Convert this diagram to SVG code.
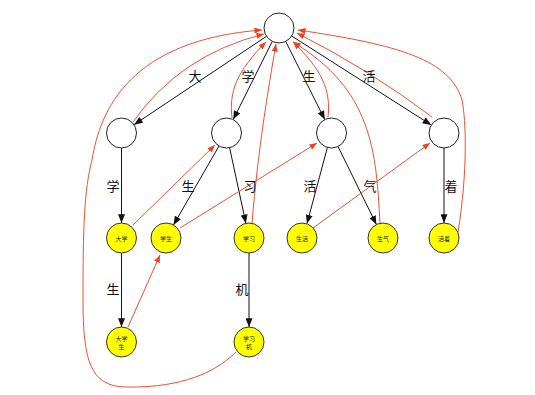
<svg xmlns="http://www.w3.org/2000/svg" width="535" height="395" viewBox="0 0 535 395">
<style>
.n{fill:#fff;stroke:#222;stroke-width:1}
.y{fill:#ffff00;stroke:#333;stroke-width:1}
.e{fill:none;stroke:#111;stroke-width:1;marker-end:url(#ab)}
.f{fill:none;stroke:#f0502f;stroke-width:1;marker-end:url(#ar)}
.l{font-family:"Noto Sans CJK SC","Noto Sans CJK JP",sans-serif;font-size:13px;fill:#111;text-anchor:middle;dominant-baseline:central}
.s{font-family:"Noto Sans CJK SC","Noto Sans CJK JP",sans-serif;font-size:6px;fill:#222;text-anchor:middle;dominant-baseline:central}
</style>
<defs>
<marker id="ab" viewBox="0 0 10 8" refX="10" refY="4" markerUnits="userSpaceOnUse" markerWidth="9" markerHeight="7" orient="auto"><path d="M0,0 L10,4 L0,8 z" fill="#111"/></marker>
<marker id="ar" viewBox="0 0 10 8" refX="10" refY="4" markerUnits="userSpaceOnUse" markerWidth="8" markerHeight="6" orient="auto"><path d="M0,0 L10,4 L0,8 z" fill="#f0401e"/></marker>
</defs>
<g id="connectors">
<line class="e" x1="266.5" y1="36.3" x2="134" y2="124.7"/>
<line class="e" x1="272.3" y1="41.4" x2="233.2" y2="119.6"/>
<line class="e" x1="285.7" y1="41.4" x2="324.8" y2="119.6"/>
<line class="e" x1="291.7" y1="36" x2="431.3" y2="125"/>
<line class="e" x1="121.5" y1="148" x2="121.5" y2="223"/>
<line class="e" x1="219" y1="146" x2="173.5" y2="225"/>
<line class="e" x1="229.6" y1="147.7" x2="245.9" y2="223.3"/>
<line class="e" x1="327.4" y1="147.4" x2="307" y2="223.6"/>
<line class="e" x1="338" y1="146.5" x2="376.4" y2="224.5"/>
<line class="e" x1="444" y1="148" x2="444" y2="223"/>
<line class="e" x1="121.5" y1="253" x2="121.5" y2="327"/>
<line class="e" x1="249" y1="253" x2="249" y2="327"/>
<path class="f" d="M133,122 Q180,55 264,34"/>
<path class="f" d="M232,118 C229,92 236,72 266,42"/>
<path class="f" d="M328,117 C331,90 322,70 293,42"/>
<path class="f" d="M432,117 Q370,70 297,33"/>
<path class="f" d="M252,223 C258,150 268,90 276,44"/>
<path class="f" d="M380,223 C376,150 372,90 293,42"/>
<path class="f" d="M458,232 C468,170 466,120 462,100 C450,60 400,45 298,30"/>
<path class="f" d="M236,352 C210,378 170,388 125,387 C90,386 83,360 83,300 C83,230 84,190 92,160 C100,110 130,40 262,30"/>
<line class="f" x1="133" y1="225" x2="215" y2="145"/>
<line class="f" x1="180" y1="228" x2="317" y2="143"/>
<line class="f" x1="313" y1="228" x2="430" y2="143"/>
<line class="f" x1="128" y1="327" x2="160" y2="255"/>
<text class="l" x="195" y="75">大</text>
<text class="l" x="248" y="75">学</text>
<text class="l" x="309" y="75">生</text>
<text class="l" x="369" y="75">活</text>
<text class="l" x="113" y="185">学</text>
<text class="l" x="188" y="185">生</text>
<text class="l" x="250" y="185">习</text>
<text class="l" x="310" y="185">活</text>
<text class="l" x="370" y="185">气</text>
<text class="l" x="451" y="185">着</text>
<text class="l" x="113" y="288">生</text>
<text class="l" x="242" y="288">机</text>
</g>
<g id="root"><circle class="n" cx="279" cy="28" r="15"/></g>
<g id="n1"><circle class="n" cx="121.5" cy="133" r="15"/></g>
<g id="n2"><circle class="n" cx="226.5" cy="133" r="15"/></g>
<g id="n3"><circle class="n" cx="331.5" cy="133" r="15"/></g>
<g id="n4"><circle class="n" cx="444" cy="133" r="15"/></g>
<g id="daxue"><circle class="y" cx="121.5" cy="238" r="15"/><text class="s" x="121.5" y="238">大学</text></g>
<g id="xuesheng"><circle class="y" cx="166" cy="238" r="15"/><text class="s" x="166" y="238">学生</text></g>
<g id="xuexi"><circle class="y" cx="249" cy="238" r="15"/><text class="s" x="249" y="238">学习</text></g>
<g id="shenghuo"><circle class="y" cx="302" cy="238" r="15"/><text class="s" x="302" y="238">生活</text></g>
<g id="shengqi"><circle class="y" cx="383" cy="238" r="15"/><text class="s" x="383" y="238">生气</text></g>
<g id="huozhe"><circle class="y" cx="444" cy="238" r="15"/><text class="s" x="444" y="238">活着</text></g>
<g id="daxuesheng"><circle class="y" cx="121.5" cy="342" r="15"/><text class="s" x="121.5" y="338">大学</text><text class="s" x="121.5" y="346">生</text></g>
<g id="xuexiji"><circle class="y" cx="249" cy="342" r="15"/><text class="s" x="249" y="338">学习</text><text class="s" x="249" y="346">机</text></g>
</svg>
